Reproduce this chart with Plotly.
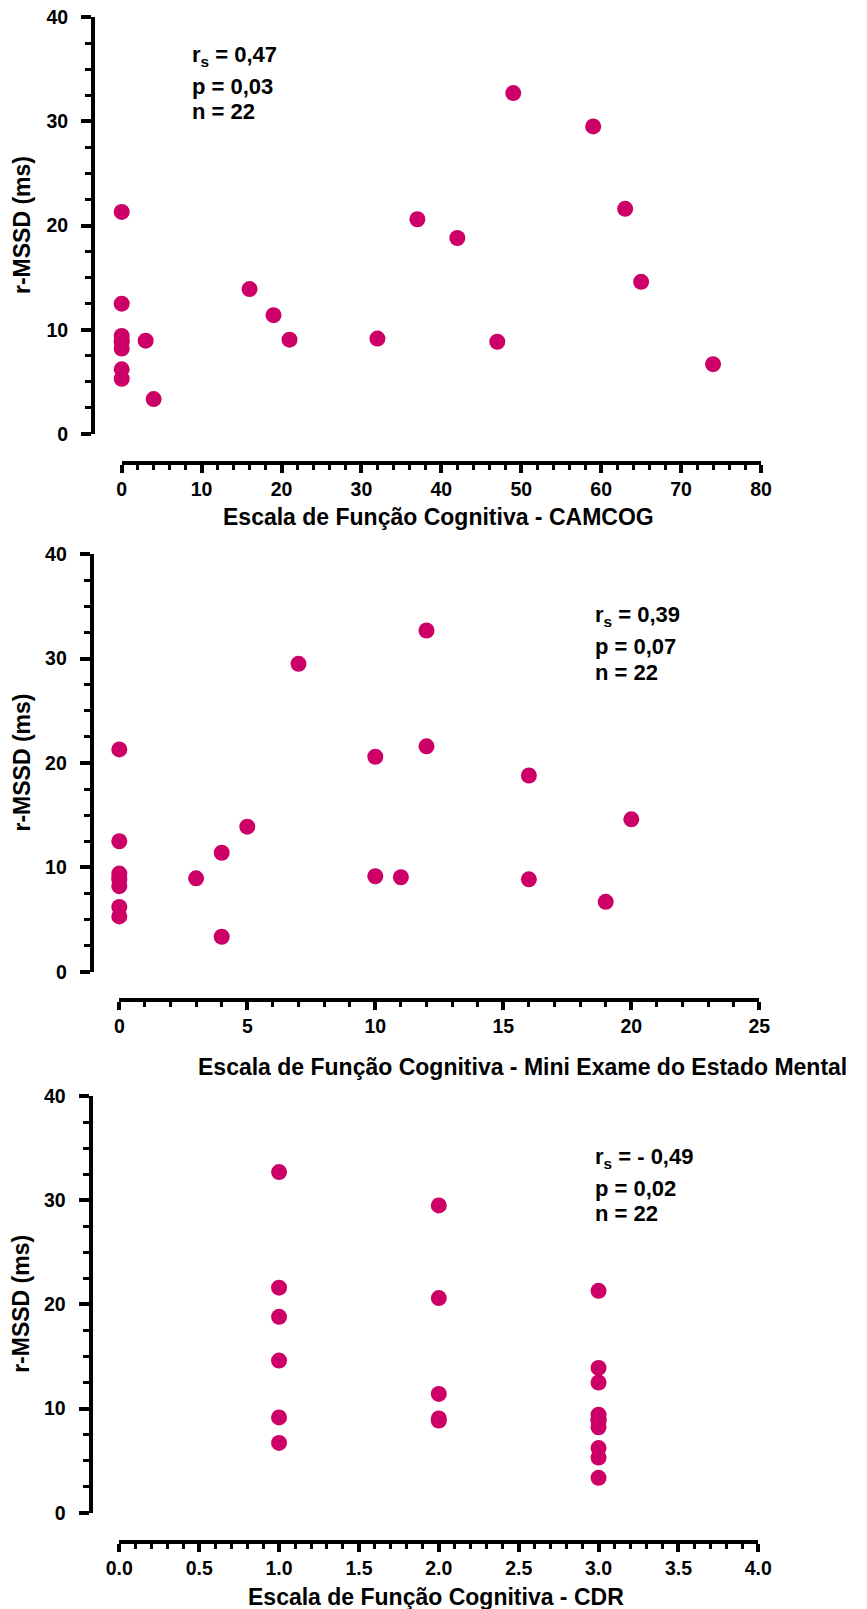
import plotly.graph_objects as go

# r-MSSD (ms) for each of the 22 patients, with their cognitive scores
rmssd = [32.7, 29.5, 21.6, 21.3, 20.6, 18.8, 14.6, 13.9, 12.5, 11.4, 9.15,
         9.05, 8.95, 8.85, 6.7, 9.4, 8.2, 6.2, 5.3, 3.35, 8.8, 9.0]
camcog = [49, 59, 63, 0, 37, 42, 65, 16, 0, 19, 32,
          21, 3, 47, 74, 0, 0, 0, 0, 4, 0, 0]
meem = [12, 7, 12, 0, 10, 16, 20, 5, 0, 4, 10,
        11, 3, 16, 19, 0, 0, 0, 0, 4, 0, 0]
cdr = [1, 2, 1, 3, 2, 1, 1, 3, 3, 2, 1,
       2, 3, 2, 1, 3, 3, 3, 3, 3, 3, 3]

stats_camcog = ["r<sub>s</sub> = 0,47", "p = 0,03", "n = 22"]
stats_meem = ["r<sub>s</sub> = 0,39", "p = 0,07", "n = 22"]
stats_cdr = ["r<sub>s</sub> = - 0,49", "p = 0,02", "n = 22"]

xtitles = ["Escala de Função Cognitiva - CAMCOG",
           "Escala de Função Cognitiva - Mini Exame do Estado Mental",
           "Escala de Função Cognitiva - CDR"]
ytitle = "r-MSSD (ms)"

W, H = 867, 1609
FONT = "Liberation Sans, Arial, sans-serif"
DOT = "#CC0066"


def fx(px):
    return px / W


def fy(py):
    return 1 - py / H


# pixel geometry of each panel: x-axis start/end, x-axis line y,
# y-axis line x, y-axis bottom (0) / top (40)
panels = [
    dict(x0=121.7, x1=761.0, xline=463.0, yline=93.0, yb=434.0, yt=17.0,
         xrange=[0, 80], dtick=10, minor=2, fmt="d",
         xs=camcog, stats=stats_camcog, sx=190.0, sy=[56.0, 86.0, 111.5],
         tx=438.6, ty=517.0),
    dict(x0=119.3, x1=759.3, xline=1000.0, yline=91.7, yb=971.7, yt=554.3,
         xrange=[0, 25], dtick=5, minor=1, fmt="d",
         xs=meem, stats=stats_meem, sx=593.0, sy=[616.5, 646.5, 672.0],
         tx=522.5, ty=1067.0),
    dict(x0=119.3, x1=758.3, xline=1541.7, yline=90.5, yb=1512.7, yt=1096.0,
         xrange=[0, 4], dtick=0.5, minor=0.1, fmt=".1f",
         xs=cdr, stats=stats_cdr, sx=593.0, sy=[1157.5, 1188.0, 1213.0],
         tx=436.0, ty=1597.0),
]

fig = go.Figure()
annotations = []
layout = dict(
    template="none",
    width=W, height=H,
    margin=dict(l=0, r=0, t=0, b=0, pad=0, autoexpand=False),
    paper_bgcolor="white", plot_bgcolor="white",
    showlegend=False,
    font=dict(family=FONT, color="black"),
)

for i, p in enumerate(panels, start=1):
    sfx = "" if i == 1 else str(i)
    fig.add_trace(go.Scatter(
        x=p["xs"], y=rmssd, mode="markers",
        marker=dict(size=16, color=DOT, line=dict(width=0)),
        cliponaxis=False,
        xaxis="x" + sfx, yaxis="y" + sfx,
        hoverinfo="x+y",
    ))
    layout["xaxis" + sfx] = dict(
        domain=[fx(p["x0"]), fx(p["x1"])],
        range=p["xrange"], anchor="free", position=fy(p["xline"]),
        automargin=False,
        showgrid=False, zeroline=False,
        showline=True, linecolor="black", linewidth=4,
        ticks="outside", ticklen=8, tickwidth=3.5, tickcolor="black",
        dtick=p["dtick"], tick0=0, tickformat=p["fmt"],
        tickfont=dict(family=FONT, size=19.5, color="black", weight="bold"),
        minor=dict(ticks="outside", dtick=p["minor"], tick0=0, ticklen=5,
                   tickwidth=3, tickcolor="black", showgrid=False),
        fixedrange=True,
    )
    layout["yaxis" + sfx] = dict(
        domain=[fy(p["yb"]), fy(p["yt"])],
        range=[0, 40], anchor="free", position=fx(p["yline"]),
        automargin=False,
        showgrid=False, zeroline=False,
        showline=True, linecolor="black", linewidth=4,
        ticks="outside", ticklen=10, tickwidth=3.5, tickcolor="black",
        dtick=10, tick0=0, ticklabelstandoff=9,
        tickfont=dict(family=FONT, size=19.5, color="black", weight="bold"),
        minor=dict(ticks="outside", dtick=2.5, tick0=0, ticklen=6,
                   tickwidth=3, tickcolor="black", showgrid=False),
        fixedrange=True,
    )
    # Spearman statistics block
    for txt, yy in zip(p["stats"], p["sy"]):
        annotations.append(dict(
            text=txt, x=fx(p["sx"]), y=fy(yy), xref="paper", yref="paper",
            xanchor="left", yanchor="middle", showarrow=False,
            font=dict(family=FONT, size=22, color="black", weight="bold"),
        ))
    # x-axis title
    annotations.append(dict(
        text=xtitles[i - 1], x=fx(p["tx"]), y=fy(p["ty"]),
        xref="paper", yref="paper", xanchor="center", yanchor="middle",
        showarrow=False,
        font=dict(family=FONT, size=23, color="black", weight="bold"),
    ))
    # y-axis title
    annotations.append(dict(
        text=ytitle, x=fx(21.5), y=fy((p["yb"] + p["yt"]) / 2),
        xref="paper", yref="paper", xanchor="center", yanchor="middle",
        textangle=-90, showarrow=False,
        font=dict(family=FONT, size=23, color="black", weight="bold"),
    ))

layout["annotations"] = annotations
fig.update_layout(**layout)

# page without body margin so the figure sits at the window origin
fig.write_html(
    "out.html",
    post_script="document.body.style.margin='0';"
                "document.body.style.overflow='hidden';",
)
